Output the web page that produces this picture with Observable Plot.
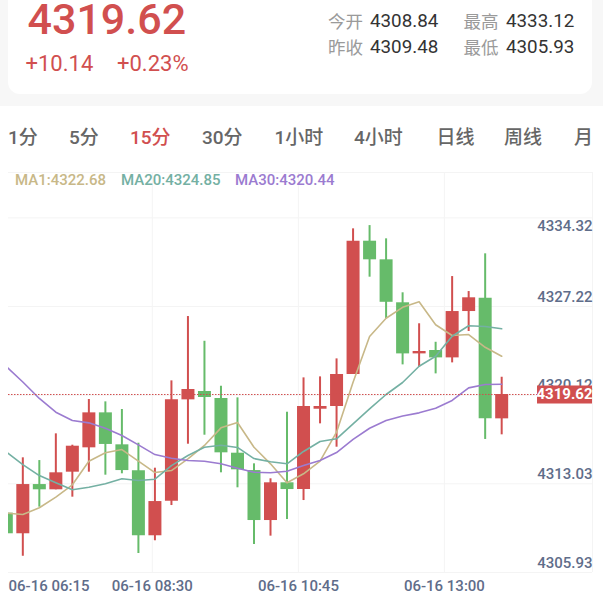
<!DOCTYPE html>
<html><head><meta charset="utf-8">
<script src="https://cdn.jsdelivr.net/npm/d3@7"></script>
<script src="https://cdn.jsdelivr.net/npm/@observablehq/plot@0.6"></script>
<style>
html,body{margin:0;padding:0;background:#fff;overflow:hidden}
body{width:603px;height:599px;position:relative;font-family:Roboto,"Noto Sans CJK SC",sans-serif}
#band{position:absolute;left:0;top:0;width:603px;height:106px;background:#f7f7f7}
#card{position:absolute;left:8px;top:-20px;width:584px;height:114px;background:#fff;border-radius:12px}
.t{position:absolute;white-space:nowrap;line-height:0.8}
#chart{position:absolute;left:0;top:160px}
#chart svg{display:block}
</style></head><body>
<div id="band"></div><div id="card"></div>
<div id="header"></div>
<div id="chart"></div>
<script>
const RED="#d14f4f",GREEN="#66bb6a",TAN="#c8b888",TEAL="#74b0a3",PURPLE="#9b7bd0",AXIS="#5f6d8a",GRID="#f4f4f4";

const opens=[4310.68,4309.03,4312.97,4312.55,4313.96,4315.91,4318.71,4316.15,4314.07,4308.87,4311.64,4319.75,4320.42,4319.86,4315.48,4314.09,4310.09,4313.11,4312.57,4319.00,4319.22,4321.78,4332.45,4330.96,4327.52,4323.43,4323.70,4323.11,4326.82,4327.89,4318.23];
const closes=[4309.03,4312.97,4312.55,4313.91,4316.04,4318.71,4316.18,4314.09,4308.87,4311.61,4319.75,4320.58,4319.94,4315.51,4314.15,4310.09,4313.11,4312.57,4319.22,4319.22,4321.78,4332.45,4330.96,4327.56,4323.43,4323.62,4323.11,4326.82,4327.92,4318.23,4320.18];
const highs=[4311.20,4315.11,4314.89,4317.03,4316.12,4319.78,4319.59,4318.98,4316.28,4314.28,4321.27,4326.42,4324.44,4320.84,4319.91,4314.63,4313.43,4318.76,4321.51,4321.59,4323.03,4333.44,4333.70,4332.64,4328.32,4325.84,4324.36,4329.62,4328.42,4331.44,4321.56];
const lows=[4308.40,4307.23,4311.16,4312.55,4311.96,4313.96,4313.72,4313.83,4307.45,4308.47,4311.29,4316.20,4316.92,4313.91,4312.71,4308.17,4308.84,4310.17,4311.69,4317.83,4315.96,4321.78,4329.57,4326.26,4322.55,4322.36,4321.83,4322.71,4325.22,4316.58,4316.95];
const ma1=[4310.68,4310.57,4311.11,4311.96,4312.95,4314.84,4315.51,4315.77,4314.84,4313.93,4314.09,4315.03,4316.10,4317.51,4317.94,4315.96,4314.63,4313.11,4313.83,4314.84,4317.16,4321.16,4324.82,4326.28,4327.16,4327.60,4325.76,4324.90,4324.98,4323.96,4323.24];
const ma20=[4315.58,4314.57,4313.69,4313.11,4312.55,4312.76,4313.03,4313.43,4313.29,4313.40,4314.49,4315.30,4315.96,4316.12,4315.94,4315.05,4314.79,4314.63,4315.62,4316.42,4316.63,4317.83,4319.03,4320.18,4321.14,4322.44,4323.24,4324.84,4325.68,4325.62,4325.44];
const ma30=[4322.42,4321.18,4319.86,4318.76,4318.10,4317.91,4317.48,4316.90,4316.15,4315.37,4315.08,4314.89,4314.84,4314.63,4314.28,4313.96,4313.91,4314.04,4314.49,4314.89,4315.53,4316.58,4317.48,4318.10,4318.46,4318.71,4319.08,4319.70,4320.71,4320.98,4321.00];

const yTicks=[4305.93,4313.03,4320.12,4327.22,4334.32];
const yTop=4337.95;
const xDomain=[0.133,35.5];
const xGrid=[8.84,17.69,26.53];
const timeLabels=["06-16 06:15","06-16 08:30","06-16 10:45","06-16 13:00"];
const lastLevel=4320.18, lastLabel="4319.62";
const tagStart=32.17;

const price="4319.62",chg="+10.14",pct="+0.23%";
const stats=[["今开","4308.84"],["昨收","4309.48"],["最高","4333.12"],["最低","4305.93"]];
const tabs=["1分","5分","15分","30分","1小时","4小时","日线","周线","月"];
const legend=[["MA1:4322.68",TAN],["MA20:4324.85",TEAL],["MA30:4320.44",PURPLE]];

// header text
const H=document.getElementById("header");
function put(txt,x,base,size,color,weight){
  const e=document.createElement("div");e.className="t";e.textContent=txt;
  // line-height 0.8: Roboto baseline sits about 0.755em below the box top
  e.style.cssText=`left:${x}px;top:${base-size*0.755}px;font-size:${size}px;color:${color};font-weight:${weight||400}`;
  H.appendChild(e);return e;
}
put(price,27.5,34,43,RED,500);
put(chg,25.5,71.7,22,RED);
put(pct,117,71.7,22,RED);
[[328,370,28.3],[328,370,54],[463.5,506,28.3],[463.5,506,54]].forEach((p,i)=>{
  put(stats[i][0],p[0],p[2],17.5,"#9a9a9a");
  put(stats[i][1],p[1],p[2],18.8,"#333");
});
[8,69,130,202,274.5,354,436.5,504,574].forEach((x,i)=>put(tabs[i],x,144.5,19,i===2?RED:"#666",500));
[15,121,235].forEach((x,i)=>{const l=legend[i];const e=put(l[0],x,185.7,15,l[1],500);e.style.zIndex=2;});

const rows=opens.map((o,i)=>({i,open:o,close:closes[i],high:highs[i],low:lows[i],ma1:ma1[i],ma20:ma20[i],ma30:ma30[i]}));
const up=rows.filter(d=>d.close>=d.open),down=rows.filter(d=>d.close<d.open);
const labelAbove=yTicks.filter(v=>v!==yTicks[4]);
const fontOpt={fontFamily:"Roboto",fontSize:15,fontWeight:500,fill:AXIS};

const chart=Plot.plot({
  width:603,height:439,marginLeft:8,marginRight:11,marginTop:12,marginBottom:27,
  style:{background:"transparent",fontFamily:"Roboto"},
  x:{domain:xDomain,axis:null},
  y:{domain:[yTicks[0],yTop],axis:null},
  marks:[
    Plot.ruleY([...yTicks,yTop],{stroke:GRID,strokeWidth:1}),
    Plot.ruleX([...xGrid,xDomain[1]],{stroke:GRID,strokeWidth:1}),
    Plot.text(labelAbove,{y:d=>d,frameAnchor:"right",textAnchor:"end",lineAnchor:"bottom",dy:-5,text:d=>d.toFixed(2),...fontOpt}),
    Plot.text([yTicks[4]],{y:d=>d,frameAnchor:"right",textAnchor:"end",lineAnchor:"top",dy:2,text:d=>d.toFixed(2),...fontOpt}),
    Plot.ruleX(up,{x:"i",y1:"low",y2:"high",stroke:RED,strokeWidth:2,clip:true}),
    Plot.ruleX(down,{x:"i",y1:"low",y2:"high",stroke:GREEN,strokeWidth:2,clip:true}),
    Plot.ruleX(up,{x:"i",y1:"open",y2:"close",stroke:RED,strokeWidth:13,clip:true}),
    Plot.ruleX(down,{x:"i",y1:"open",y2:"close",stroke:GREEN,strokeWidth:13,clip:true}),
    Plot.line(rows,{x:"i",y:"ma1",stroke:TAN,strokeWidth:1.6,clip:true}),
    Plot.line(rows,{x:"i",y:"ma20",stroke:TEAL,strokeWidth:1.6,clip:true}),
    Plot.line(rows,{x:"i",y:"ma30",stroke:PURPLE,strokeWidth:1.6,clip:true}),
    Plot.ruleY([lastLevel],{stroke:RED,strokeWidth:1,strokeDasharray:"1.5,1.5"}),
    Plot.ruleY([lastLevel],{x1:tagStart,x2:xDomain[1],stroke:RED,strokeWidth:18}),
    Plot.text([lastLabel],{x:xDomain[1],y:lastLevel,textAnchor:"end",text:d=>d,fontFamily:"Roboto",fontSize:15,fontWeight:700,fill:"#fff"}),
    Plot.text([timeLabels[0]],{x:xDomain[0],frameAnchor:"bottom",textAnchor:"start",lineAnchor:"top",dy:8,text:d=>d,...fontOpt}),
    Plot.text(timeLabels.slice(1),{x:(d,i)=>xGrid[i],frameAnchor:"bottom",textAnchor:"middle",lineAnchor:"top",dy:8,text:d=>d,...fontOpt})
  ]
});
document.getElementById("chart").appendChild(chart);
</script>
</body></html>
